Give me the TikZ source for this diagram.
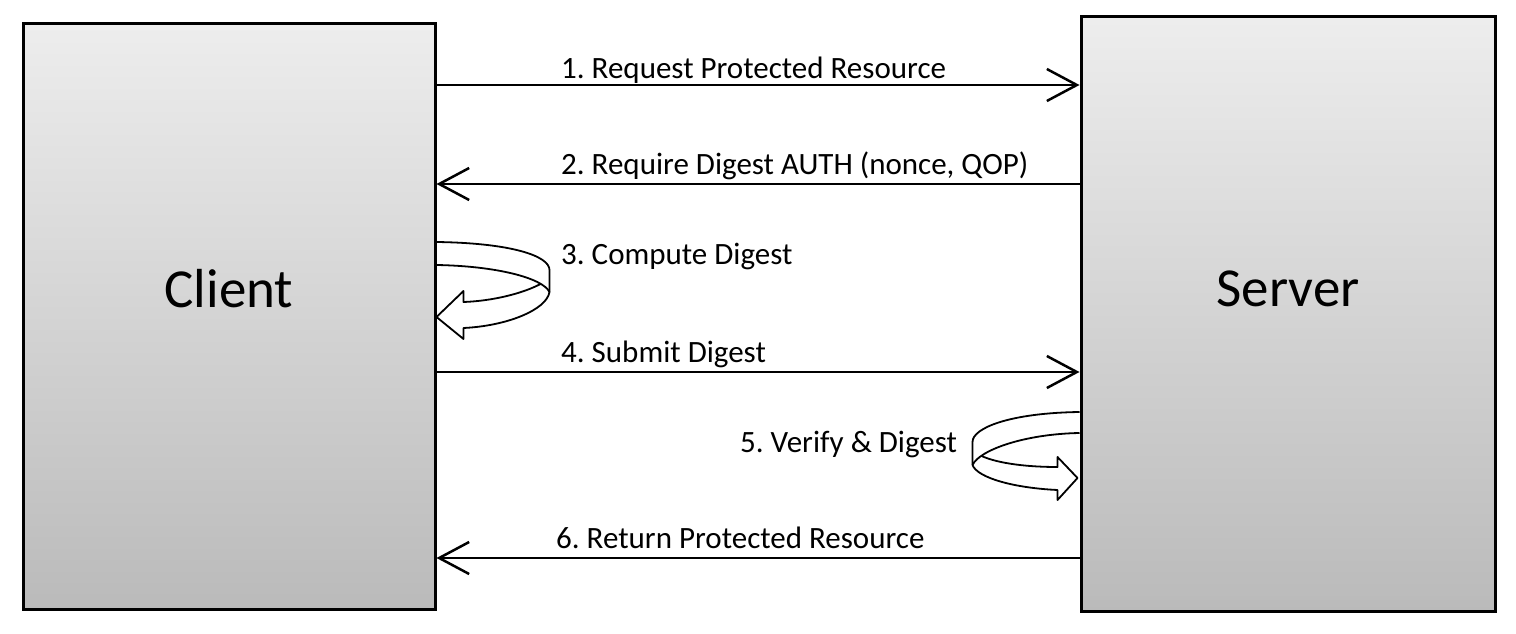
\documentclass[tikz,border=0pt]{standalone}
\usepackage{fontspec}
\setmainfont{Carlito}
\usetikzlibrary{arrows.meta}
\frenchspacing

\begin{document}
\begin{tikzpicture}[x=1pt,y=-1pt,
  box/.style={draw=black, line width=3pt, top color=black!7, bottom color=black!27,
    inner sep=0pt, font=\fontsize{55}{60}\selectfont},
  msg/.style={line width=2.5pt, -{Straight Barb[length=30pt,width=32pt]}},
  lbl/.style={anchor=base west, inner sep=0pt, font=\fontsize{31}{36}\selectfont},
  turn/.style={line width=1.8pt, line join=round}]
\useasboundingbox (0,0) rectangle (1516,634);

% the two parties
\node[box, minimum width=412pt, minimum height=586pt] (client) at (229,316.5) {\raisebox{56pt}{Client}};
\node[box, minimum width=414pt, minimum height=594pt] (server) at (1288,314) {\raisebox{50pt}{Server}};

% message rows
\coordinate (r1) at (0,85);
\coordinate (r2) at (0,184);
\coordinate (r3) at (0,242);
\coordinate (r4) at (0,372);
\coordinate (r5) at (0,412);
\coordinate (r6) at (0,558);

\draw[msg] (client.east |- r1) -- (server.west |- r1);
\draw[msg] (server.west |- r2) -- (client.east |- r2);
\draw[msg] (client.east |- r4) -- (server.west |- r4);
\draw[msg] (server.west |- r6) -- (client.east |- r6);

\node[lbl] (m1) at (561,79) {1. Request Protected Resource};
\node[lbl] (m2) at (561,174) {2. Require Digest AUTH (nonce, QOP)};
\node[lbl] (m3) at (561,264) {3. Compute Digest};
\node[lbl] (m4) at (561,362) {4. Submit Digest};
\node[lbl] (m5) at (740,452) {5. Verify \& Digest};
\node[lbl] (m6) at (556,548) {6. Return Protected Resource};

% turn arrow at the client
\begin{scope}[shift={(client.east |- r3)}, turn]
\draw (0,0) .. controls (75,1) and (113,14) .. (113,28) -- (113,50);
\draw (0,23) .. controls (60,24) and (106,36) .. (113,50);
\draw (104,42) .. controls (85,52) and (55,59) .. (27,60) -- (27,49) -- (0,75) -- (27,97) -- (27,86)
  .. controls (70,84) and (110,68) .. (113,50);
\end{scope}

% turn arrow at the server
\begin{scope}[shift={(server.west |- r5)}, xscale=-1, turn]
\draw (0,0) .. controls (70,1) and (107,16) .. (107,30) -- (107,53);
\draw (0,21) .. controls (55,22) and (100,38) .. (107,53);
\draw (98,44) .. controls (80,52) and (50,55) .. (22,55) -- (22,45) -- (2,66) -- (22,88) -- (22,78)
  .. controls (65,76) and (102,66) .. (107,53);
\end{scope}
\end{tikzpicture}
\end{document}
